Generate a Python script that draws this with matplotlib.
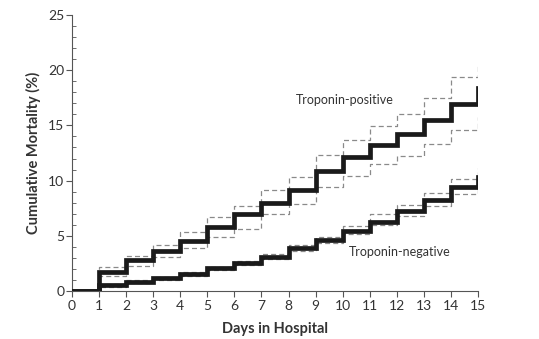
import numpy as np
from matplotlib import pyplot as plt
from matplotlib.ticker import MultipleLocator
import matplotlib

matplotlib.rcParams['font.family'] = ['Lato', 'DejaVu Sans']

days = list(range(16))

pos = [0, 1.75, 2.8, 3.65, 4.5, 5.83, 6.95, 8.0, 9.15, 10.9, 12.1, 13.2, 14.2, 15.5, 16.9, 18.35]
pos_upper = [0, 2.15, 3.2, 4.2, 5.3, 6.7, 7.7, 9.15, 10.35, 12.3, 13.7, 14.95, 16.0, 17.5, 19.4, 20.6]
pos_lower = [0, 1.36, 2.26, 3.08, 3.87, 4.9, 5.6, 7.0, 7.9, 9.45, 10.45, 11.5, 12.25, 13.3, 14.6, 15.8]

neg = [0, 0.5, 0.85, 1.15, 1.55, 2.05, 2.5, 3.1, 3.87, 4.6, 5.46, 6.28, 7.27, 8.24, 9.45, 10.35]
neg_upper = [0, 0.65, 1.0, 1.3, 1.7, 2.2, 2.7, 3.35, 4.15, 4.85, 5.9, 6.95, 7.8, 8.85, 10.1, 11.1]
neg_lower = [0, 0.35, 0.7, 1.0, 1.4, 1.9, 2.35, 2.9, 3.6, 4.35, 5.2, 5.98, 6.75, 7.7, 8.8, 9.7]

text_col = '#333333'

fig = plt.figure(figsize=(5.39, 3.39), dpi=100)
ax = fig.add_axes([0.1336, 0.1416, 0.7532, 0.8142])

# confidence bands first, thick lines on top
for series in (pos_upper, pos_lower, neg_upper, neg_lower):
    ax.step(days, series, where='post', color='#8a8a8a', lw=0.9,
            linestyle=(0, (4, 2.5)), zorder=2)
for series in (pos, neg):
    ax.step(days, series, where='post', color='#1a1a1a', lw=3.4,
            solid_joinstyle='miter', zorder=3)

ax.text(8.27, 17.3, 'Troponin-positive', fontsize=9, color=text_col, va='center')
ax.text(10.23, 3.5, 'Troponin-negative', fontsize=9, color=text_col, va='center')

ax.set_xlim(0, 15)
ax.set_ylim(0, 25)
ax.xaxis.set_major_locator(MultipleLocator(1))
ax.yaxis.set_major_locator(MultipleLocator(5))
ax.yaxis.set_minor_locator(MultipleLocator(1))

for s in ('top', 'right'):
    ax.spines[s].set_visible(False)
for s in ('left', 'bottom'):
    ax.spines[s].set_color('#555555')
    ax.spines[s].set_linewidth(0.8)

ax.tick_params(axis='both', which='major', labelsize=10, labelcolor=text_col,
               color='#555555', length=4.5, width=0.8)
ax.tick_params(axis='y', which='minor', direction='in', length=3, width=0.6, color='#555555')
ax.tick_params(axis='x', which='major', pad=2)
ax.tick_params(axis='y', which='major', pad=1)

ax.set_xlabel('Days in Hospital', fontsize=10.5, fontweight='bold', color=text_col, labelpad=7)
ax.set_ylabel('Cumulative Mortality (%)', fontsize=10.5, fontweight='bold', color=text_col, labelpad=5)

fig.savefig('out.png', dpi=100)
